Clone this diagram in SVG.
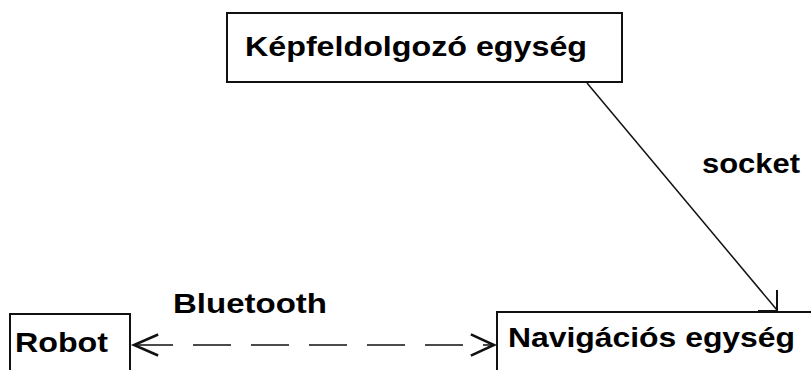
<svg xmlns="http://www.w3.org/2000/svg" width="811" height="370" viewBox="0 0 811 370">
<style>
.box{fill:#fff;stroke:#111;stroke-width:2}
.t{font-family:"Liberation Sans",Arial,sans-serif;font-weight:bold;font-size:28px;fill:#000}
.ln{fill:none;stroke:#111;stroke-width:1.5}
.ah{fill:none;stroke:#111;stroke-width:2.5;stroke-linecap:square}
</style>
<rect width="811" height="370" fill="#fff"/>
<g id="kepfeldolgozo">
<rect class="box" x="227" y="13" width="395" height="69"/>
<text class="t" x="245" y="56" textLength="342" lengthAdjust="spacingAndGlyphs">Képfeldolgozó egység</text>
</g>
<g id="robot">
<rect class="box" x="10" y="314" width="120" height="70"/>
<text class="t" x="15" y="352" textLength="93" lengthAdjust="spacingAndGlyphs">Robot</text>
</g>
<g id="navigacio">
<rect class="box" x="497" y="312" width="340" height="70"/>
<text class="t" x="508" y="347" textLength="287" lengthAdjust="spacingAndGlyphs">Navigációs egység</text>
</g>
<g id="connectors">
<line class="ln" x1="587" y1="83" x2="777" y2="310"/>
<polyline class="ln" points="777,290 777,311 758,311" style="stroke-width:2"/>
<text class="t" x="702" y="173" textLength="98" lengthAdjust="spacingAndGlyphs">socket</text>
<line class="ln" x1="135" y1="345" x2="493" y2="345" stroke-dasharray="38 20"/>
<polyline class="ah" points="157,335 134,345 157,355"/>
<polyline class="ah" points="472,335 494,345 472,355"/>
<text class="t" x="173" y="313" textLength="154" lengthAdjust="spacingAndGlyphs">Bluetooth</text>
</g>
</svg>
